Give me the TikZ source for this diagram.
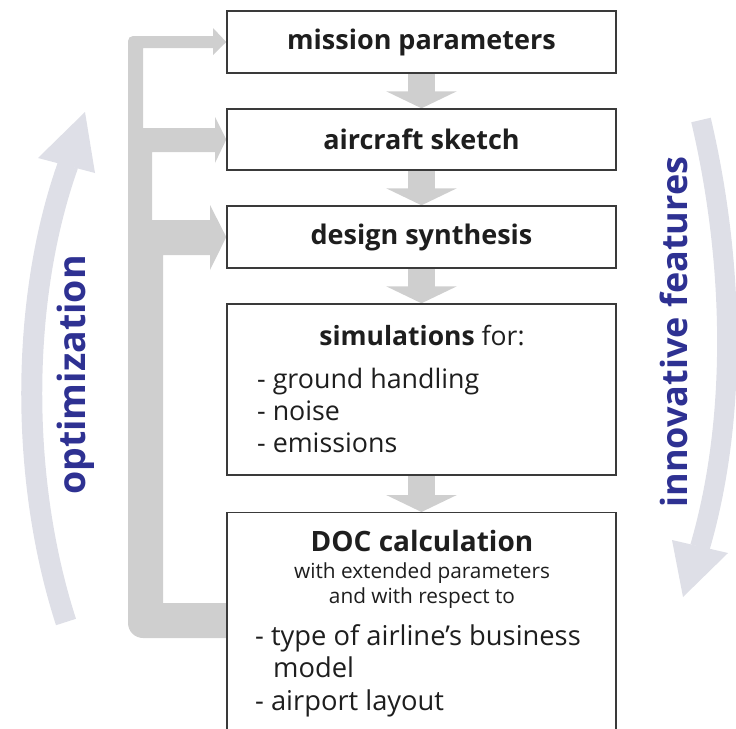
\documentclass[tikz,border=0pt]{standalone}
\usepackage{fontspec}
\setmainfont{Open Sans}
\usetikzlibrary{arrows.meta}
\definecolor{flowgray}{HTML}{CFCFCF}
\definecolor{arcgray}{HTML}{DEDFE7}
\definecolor{navy}{HTML}{2E3192}
\definecolor{boxline}{HTML}{3A3A3A}
\definecolor{ink}{HTML}{1E1E1E}
\newcommand{\setfs}[1]{\fontsize{#1}{#1}\selectfont}
\pgfdeclarelayer{background}
\pgfsetlayers{background,main}
\begin{document}
\begin{tikzpicture}[x=1pt,y=-1pt,
  stage/.style={draw=boxline, line width=1.4pt, fill=white, minimum width=389pt,
    inner sep=0pt, text=ink},
  title/.style={font=\setfs{27}\bfseries},
  txt/.style={inner sep=0pt, text=ink},
  item/.style={txt, anchor=base west, font=\setfs{26.8}},
  downarrow/.style={draw=flowgray, line width=27pt,
    -{Triangle[length=17pt,width=70pt,fill=flowgray]}},
  loopword/.style={inner sep=0pt, anchor=base, rotate=90, text=navy}
]
\useasboundingbox (0,0) rectangle (736,728);
\clip (0,0) rectangle (736,728);

% process stages
\node[stage, minimum height=62pt, title] (b1) at (421.5,42) {mission parameters};
\node[stage, minimum height=61pt, title] (b2) at (421.5,139.5) {aircraft sketch};
\node[stage, minimum height=62pt, title] (b3) at (421.5,237) {design synthesis};
\node[stage, minimum height=171pt] (b4) at (421.5,389.5) {};
\node[stage, minimum height=250pt, anchor=north] (b5) at (421.5,512) {};

% simulation box content
\node[txt, anchor=base, font=\setfs{26.5}] (s0) at (422,345) {\textbf{simulations} for:};
\node[item] (s1) at (257,388) {- ground handling};
\node[item] (s2) at (257,420) {- noise};
\node[item] (s3) at (257,452) {- emissions};

% DOC box content
\node[txt, anchor=base, font=\setfs{28}\bfseries] (d0) at (422,551) {DOC calculation};
\node[txt, anchor=base, font=\setfs{20.8}] (d1) at (422,578) {with extended parameters};
\node[txt, anchor=base, font=\setfs{20.8}] (d2) at (422,603) {and with respect to};
\node[item, font=\setfs{27.3}] (d3) at (255,645) {- type of airline’s business};
\node[item, font=\setfs{27.3}] (d4) at (273,677) {model};
\node[item, font=\setfs{27.3}] (d5) at (255,710) {- airport layout};

\begin{pgfonlayer}{background}
  % forward flow
  \draw[downarrow] (b1.south) -- (b2.north);
  \draw[downarrow] (b2.south) -- (b3.north);
  \draw[downarrow] (b3.south) -- (b4.north);
  \draw[downarrow] (b4.south) -- (b5.north);
  % feedback from the DOC calculation to the first three stages
  \fill[flowgray] (227,603) -- (163,603) -- (163,255) -- (210,255) -- (210,270)
    -- (b3.west) -- (210,205) -- (210,220) -- (152,220) -- (152,152)
    -- (215,152) -- (215,163) -- (b2.west) -- (215,117) -- (215,128)
    -- (143,128) -- (143,48) -- (213,48) -- (213,55) -- (b1.west)
    -- (213,28) -- (213,36) -- (133,36) .. controls (130.2,36) and (128,38.2) .. (128,41)
    -- (128,623) .. controls (128,631.3) and (134.7,638) .. (143,638)
    -- (227,638) -- cycle;
\end{pgfonlayer}

% optimization loop (left)
\draw[arcgray, line width=21pt] (66,622) .. controls (20,480) and (20,300) .. (68,165);
\fill[arcgray] (38,158) -- (85,112) -- (95,173) -- cycle;
\node[loopword, font=\setfs{37.5}\bfseries] (opt) at (85,375) {optimization};

% innovation loop (right)
\draw[arcgray, line width=20pt] (701,120) .. controls (735,265) and (737,420) .. (700,547);
\fill[arcgray] (672,540) -- (683,597) -- (728,553) -- cycle;
\node[loopword, font=\setfs{36}\bfseries] (inn) at (687,332) {innovative features};
\end{tikzpicture}
\end{document}
